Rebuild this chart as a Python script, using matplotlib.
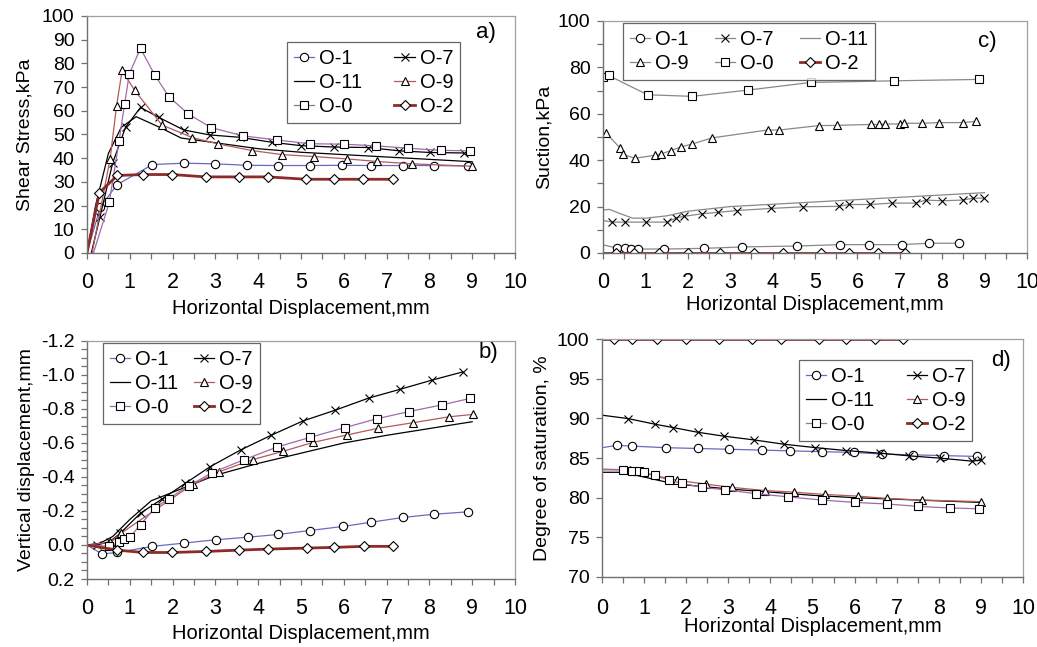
import numpy as np
import matplotlib
matplotlib.use('Agg')
import matplotlib.pyplot as plt
from matplotlib.ticker import MultipleLocator, FormatStrFormatter

plt.rcParams['font.family'] = ['Liberation Sans', 'DejaVu Sans']
plt.rcParams['axes.unicode_minus'] = False

# ---- a) shear stress vs horizontal displacement ----
a_o1_x = [0.0, 0.31, 0.70, 1.53, 2.26, 3.00, 3.74, 4.47, 5.20, 5.96, 6.64, 7.38, 8.10, 8.90]
a_o1_y = [0.0, 19.4, 28.8, 37.3, 37.9, 37.6, 37.0, 36.9, 36.9, 37.0, 36.9, 36.9, 36.9, 36.7]
a_o7_x = [0.1, 0.3, 0.6, 0.9, 1.25, 1.68, 2.26, 2.87, 3.58, 4.32, 5.00, 5.77, 6.56, 7.30, 8.02, 8.80]
a_o7_y = [0.0, 15.0, 38.0, 53.0, 61.4, 57.2, 51.9, 49.8, 48.8, 46.7, 45.3, 44.7, 44.5, 43.1, 42.4, 42.2]
a_o11_x = [0.0, 0.2, 0.5, 0.8, 1.15, 1.7, 2.2, 3.0, 4.0, 5.0, 6.0, 7.0, 8.0, 9.0]
a_o11_y = [0.0, 20.0, 42.0, 53.0, 57.5, 53.0, 48.5, 46.5, 44.0, 42.5, 41.5, 40.5, 39.5, 38.5]
a_o9_x = [0.12, 0.54, 0.69, 0.82, 1.11, 1.75, 2.46, 3.07, 3.86, 4.56, 5.30, 6.07, 6.78, 7.60, 9.0]
a_o9_y = [0.0, 39.7, 62.0, 77.0, 68.7, 54.0, 48.7, 46.0, 43.2, 41.5, 40.7, 39.7, 38.6, 37.6, 36.6]
a_o0_x = [0.15, 0.52, 0.75, 0.88, 0.99, 1.25, 1.58, 1.91, 2.37, 2.90, 3.65, 4.43, 5.20, 6.00, 6.76, 7.50, 8.26, 8.94]
a_o0_y = [0.0, 21.3, 47.4, 63.0, 75.7, 86.3, 75.2, 66.0, 58.6, 52.9, 49.4, 47.7, 46.1, 45.9, 45.2, 44.2, 43.3, 43.1]
a_o2_x = [0.0, 0.29, 0.71, 1.31, 1.99, 2.77, 3.55, 4.23, 5.12, 5.78, 6.46, 7.14]
a_o2_y = [0.0, 25.5, 32.7, 33.1, 33.1, 32.1, 32.1, 32.1, 31.1, 31.1, 31.1, 31.1]

# ---- b) vertical displacement ----
b_o1_x = [0.0, 0.35, 0.70, 1.53, 2.26, 3.01, 3.77, 4.47, 5.20, 5.98, 6.64, 7.38, 8.11, 8.90]
b_o1_y = [0.0, 0.053, 0.044, 0.008, -0.011, -0.031, -0.046, -0.062, -0.085, -0.109, -0.134, -0.162, -0.181, -0.195]
b_o7_x = [0.0, 0.23, 0.54, 0.78, 1.25, 1.75, 2.30, 2.88, 3.59, 4.30, 5.04, 5.80, 6.58, 7.32, 8.05, 8.78]
b_o7_y = [0.0, 0.0, -0.02, -0.07, -0.187, -0.27, -0.363, -0.461, -0.559, -0.645, -0.729, -0.793, -0.864, -0.916, -0.969, -1.018]
b_o11_x = [0.0, 0.3, 0.6, 1.0, 1.5, 2.0, 2.5, 3.0, 4.0, 5.0, 6.0, 7.0, 8.0, 9.0]
b_o11_y = [0.0, -0.01, -0.05, -0.15, -0.26, -0.31, -0.36, -0.41, -0.48, -0.54, -0.60, -0.645, -0.685, -0.725]
b_o9_x = [0.0, 0.54, 0.80, 2.47, 3.08, 3.87, 4.58, 5.29, 6.07, 6.79, 7.61, 8.46, 9.01]
b_o9_y = [0.0, -0.015, -0.07, -0.357, -0.43, -0.502, -0.551, -0.604, -0.647, -0.686, -0.719, -0.754, -0.768]
b_o0_x = [0.0, 0.52, 0.74, 0.86, 1.00, 1.25, 1.58, 1.91, 2.38, 2.93, 3.67, 4.44, 5.21, 6.02, 6.78, 7.53, 8.29, 8.95]
b_o0_y = [0.0, 0.008, -0.015, -0.035, -0.046, -0.119, -0.217, -0.273, -0.349, -0.426, -0.502, -0.576, -0.633, -0.69, -0.743, -0.785, -0.824, -0.862]
b_o2_x = [0.0, 0.70, 1.31, 1.99, 2.78, 3.56, 4.24, 5.14, 5.78, 6.47, 7.15]
b_o2_y = [0.0, 0.03, 0.044, 0.044, 0.038, 0.030, 0.024, 0.018, 0.014, 0.008, 0.008]

# ---- c) suction ----
c_o1_x = [0.0, 0.33, 0.51, 0.65, 0.82, 1.45, 2.39, 3.27, 4.57, 5.60, 6.28, 7.04, 7.69, 8.39]
c_o1_y = [3.5, 2.1, 2.0, 1.7, 1.7, 1.7, 2.0, 2.6, 3.0, 3.6, 3.6, 3.6, 4.2, 4.2]
c_o7_x = [0.0, 0.21, 0.51, 1.02, 1.52, 1.71, 1.91, 2.34, 2.70, 3.16, 3.96, 4.72, 5.56, 5.81, 6.30, 6.81, 7.37, 7.61, 8.00, 8.49, 8.72, 8.99]
c_o7_y = [14.0, 13.3, 13.3, 13.3, 13.3, 15.0, 15.8, 16.9, 17.5, 18.3, 19.2, 19.9, 20.1, 20.9, 20.9, 21.5, 21.5, 22.8, 22.5, 22.8, 23.6, 23.6]
c_o11_x = [0.0, 0.15, 0.4, 0.7, 1.0, 1.5, 2.0, 3.0, 4.0, 5.0, 6.0, 7.0, 8.0, 9.0]
c_o11_y = [18.5, 18.8, 17.0, 15.0, 15.0, 16.0, 18.0, 20.0, 21.0, 22.0, 23.0, 24.0, 25.0, 26.0]
c_o9_x = [0.06, 0.41, 0.48, 0.75, 1.22, 1.37, 1.60, 1.85, 2.11, 2.57, 3.88, 4.16, 5.09, 5.52, 6.32, 6.50, 6.66, 7.01, 7.09, 7.52, 7.93, 8.48, 8.80]
c_o9_y = [51.9, 45.1, 42.5, 40.8, 42.1, 42.7, 44.1, 45.8, 47.0, 49.6, 53.0, 53.0, 54.9, 55.0, 55.4, 55.4, 55.6, 55.6, 55.9, 55.9, 56.2, 56.2, 56.7]
c_o0_x = [0.0, 0.13, 1.05, 2.10, 3.42, 4.90, 6.86, 8.86]
c_o0_y = [75.9, 76.5, 68.2, 67.5, 70.2, 73.5, 74.2, 74.8]
c_o2_x = [0.0, 0.31, 0.72, 1.31, 2.00, 2.77, 3.57, 4.25, 5.13, 5.79, 6.48, 7.13]
c_o2_y = [0.0] * 12

# ---- d) degree of saturation ----
d_o1_x = [0.0, 0.36, 0.71, 1.53, 2.28, 3.02, 3.79, 4.47, 5.22, 5.98, 6.65, 7.39, 8.13, 8.91]
d_o1_y = [86.3, 86.6, 86.5, 86.3, 86.2, 86.1, 86.0, 85.9, 85.8, 85.7, 85.5, 85.4, 85.3, 85.2]
d_o7_x = [0.0, 0.62, 1.26, 1.69, 2.27, 2.90, 3.60, 4.32, 5.05, 5.80, 6.60, 7.30, 8.04, 8.80, 9.01]
d_o7_y = [90.4, 89.97, 89.26, 88.84, 88.25, 87.75, 87.29, 86.74, 86.32, 85.94, 85.61, 85.27, 84.98, 84.6, 84.77]
d_o11_x = [0.0, 0.5, 1.0, 1.5, 2.0, 3.0, 4.0, 5.0, 6.0, 7.0, 8.0, 9.0]
d_o11_y = [83.2, 83.2, 82.6, 82.0, 81.6, 81.1, 80.7, 80.3, 80.0, 79.8, 79.6, 79.4]
d_o9_x = [0.0, 0.67, 0.81, 1.78, 2.47, 3.08, 3.87, 4.56, 5.30, 6.07, 6.78, 7.60, 9.01]
d_o9_y = [83.6, 83.5, 83.3, 82.2, 81.7, 81.3, 80.9, 80.7, 80.4, 80.2, 79.9, 79.7, 79.5]
d_o0_x = [0.0, 0.51, 0.71, 0.87, 0.99, 1.25, 1.60, 1.91, 2.37, 2.92, 3.66, 4.43, 5.22, 6.02, 6.78, 7.51, 8.27, 8.96]
d_o0_y = [83.5, 83.5, 83.4, 83.3, 83.2, 82.8, 82.2, 81.8, 81.3, 81.0, 80.5, 80.1, 79.7, 79.4, 79.2, 78.9, 78.7, 78.6]
d_o2_x = [0.0, 0.29, 0.72, 1.31, 1.99, 2.77, 3.56, 4.25, 5.15, 5.79, 6.48, 7.15]
d_o2_y = [100.0] * 12

names = ['O-1', 'O-7', 'O-11', 'O-9', 'O-0', 'O-2']
markers = {'O-1': 'o', 'O-7': 'x', 'O-11': None, 'O-9': '^', 'O-0': 's', 'O-2': 'D'}
colors = {'O-1': '#6a6ac4', 'O-7': 'black', 'O-11': 'black', 'O-9': '#b45a5a',
          'O-0': '#a06aac', 'O-2': '#8e2a2a'}
gray = '#888888'


def draw(ax, series, linecol=None, skip_first=()):
    h = {}
    for nm in names:
        x, y = series[nm]
        col = linecol if (linecol and nm != 'O-2') else colors[nm]
        lw = 2.0 if nm == 'O-2' else 0.9
        mk = markers[nm]
        me = slice(1, None) if nm in skip_first else None
        ms = 6 if mk != 'D' else 5
        line, = ax.plot(x, y, color=col, lw=lw, marker=mk, ms=ms, markevery=me,
                        mec='black', mfc='white', mew=0.8, label=nm)
        h[nm] = line
    return h


def style(ax, ymin, ymax, ymajor, yminor, yfmt='%d'):
    ax.set_xlim(0, 10)
    ax.set_ylim(ymin, ymax)
    ax.xaxis.set_major_locator(MultipleLocator(1))
    ax.xaxis.set_minor_locator(MultipleLocator(0.5))
    ax.yaxis.set_major_locator(MultipleLocator(ymajor))
    if yminor:
        ax.yaxis.set_minor_locator(MultipleLocator(yminor))
    ax.yaxis.set_major_formatter(FormatStrFormatter(yfmt))
    for s in ['top', 'right']:
        ax.spines[s].set_color('#a0a0a0')
        ax.spines[s].set_linewidth(0.9)
    for s in ['left', 'bottom']:
        ax.spines[s].set_color('#707070')
        ax.spines[s].set_linewidth(1.0)
    ax.tick_params(which='both', direction='out', length=4, width=0.9,
                   color='#707070', top=False, right=False)
    ax.tick_params(axis='x', labelsize=15.5, pad=10)
    ax.tick_params(axis='y', labelsize=14, pad=5)


fig = plt.figure(figsize=(10.37, 6.47), dpi=100)
ax_a = fig.add_axes([0.0839, 0.609, 0.4127, 0.3663])
ax_c = fig.add_axes([0.5815, 0.609, 0.4089, 0.3586])
ax_b = fig.add_axes([0.0839, 0.1051, 0.4127, 0.3679])
ax_d = fig.add_axes([0.5805, 0.1082, 0.406, 0.3678])

leg_kw = dict(fontsize=14.5, frameon=True, fancybox=False, edgecolor='#404040',
              handlelength=1.0, handletextpad=0.25, borderpad=0.35,
              labelspacing=0.25, borderaxespad=0)

xl_kw = dict(fontsize=14.5)
yl_kw = dict(fontsize=14)

# a)
ha = draw(ax_a, {'O-1': (a_o1_x, a_o1_y), 'O-7': (a_o7_x, a_o7_y), 'O-11': (a_o11_x, a_o11_y),
                 'O-9': (a_o9_x, a_o9_y), 'O-0': (a_o0_x, a_o0_y), 'O-2': (a_o2_x, a_o2_y)},
          skip_first=('O-1', 'O-7', 'O-9', 'O-0', 'O-2'))
style(ax_a, 0, 100, 10, None)
ax_a.set_xlabel('Horizontal Displacement,mm', labelpad=4, **xl_kw)
ax_a.set_ylabel('Shear Stress,kPa', labelpad=6, **yl_kw)
order = ['O-1', 'O-11', 'O-0', 'O-7', 'O-9', 'O-2']
lg = ax_a.legend([ha[n] for n in order], order, ncol=2, loc='upper left',
                 bbox_to_anchor=(0.467, 0.89), columnspacing=1.6, **leg_kw)
lg.get_frame().set_linewidth(0.9)
ax_a.text(0.91, 0.93, 'a)', transform=ax_a.transAxes, fontsize=16, va='center', ha='left')

# b)
hb = draw(ax_b, {'O-1': (b_o1_x, b_o1_y), 'O-7': (b_o7_x, b_o7_y), 'O-11': (b_o11_x, b_o11_y),
                 'O-9': (b_o9_x, b_o9_y), 'O-0': (b_o0_x, b_o0_y), 'O-2': (b_o2_x, b_o2_y)},
          skip_first=('O-1', 'O-7', 'O-9', 'O-0', 'O-2'))
style(ax_b, 0.2, -1.2, 0.2, 0.05, '%.1f')
ax_b.set_xlabel('Horizontal Displacement,mm', labelpad=3, **xl_kw)
ax_b.set_ylabel('Vertical displacement,mm', labelpad=4, **yl_kw)
lg = ax_b.legend([hb[n] for n in order], order, ncol=2, loc='upper left',
                 bbox_to_anchor=(0.037, 0.992), columnspacing=0.8, **leg_kw)
lg.get_frame().set_linewidth(0.9)
ax_b.text(0.915, 0.95, 'b)', transform=ax_b.transAxes, fontsize=16, va='center', ha='left')

# c)
hc = draw(ax_c, {'O-1': (c_o1_x, c_o1_y), 'O-7': (c_o7_x, c_o7_y), 'O-11': (c_o11_x, c_o11_y),
                 'O-9': (c_o9_x, c_o9_y), 'O-0': (c_o0_x, c_o0_y), 'O-2': (c_o2_x, c_o2_y)},
          linecol=gray, skip_first=('O-1', 'O-7', 'O-2'))
style(ax_c, 0, 100, 20, 10)
ax_c.set_xlabel('Horizontal Displacement,mm', labelpad=1, **xl_kw)
ax_c.set_ylabel('Suction,kPa', labelpad=4, **yl_kw)
order_c = ['O-1', 'O-9', 'O-7', 'O-0', 'O-11', 'O-2']
lg = ax_c.legend([hc[n] for n in order_c], order_c, ncol=3, loc='upper left',
                 bbox_to_anchor=(0.047, 0.991), columnspacing=1.3, **leg_kw)
lg.get_frame().set_linewidth(0.9)
ax_c.text(0.885, 0.91, 'c)', transform=ax_c.transAxes, fontsize=16, va='center', ha='left')

# d)
hd = draw(ax_d, {'O-1': (d_o1_x, d_o1_y), 'O-7': (d_o7_x, d_o7_y), 'O-11': (d_o11_x, d_o11_y),
                 'O-9': (d_o9_x, d_o9_y), 'O-0': (d_o0_x, d_o0_y), 'O-2': (d_o2_x, d_o2_y)},
          skip_first=('O-1', 'O-7', 'O-9', 'O-0', 'O-2'))
style(ax_d, 70, 100, 5, None)
ax_d.tick_params(axis='x', pad=11)
ax_d.set_xlabel('Horizontal Displacement,mm', labelpad=-1, **xl_kw)
ax_d.set_ylabel('Degree of saturation, %', labelpad=4, **yl_kw)
lg = ax_d.legend([hd[n] for n in order], order, ncol=2, loc='upper left',
                 bbox_to_anchor=(0.468, 0.912), columnspacing=1.6, **leg_kw)
lg.get_frame().set_linewidth(0.9)
ax_d.text(0.925, 0.91, 'd)', transform=ax_d.transAxes, fontsize=16, va='center', ha='left')

fig.savefig('out.png', dpi=100)
